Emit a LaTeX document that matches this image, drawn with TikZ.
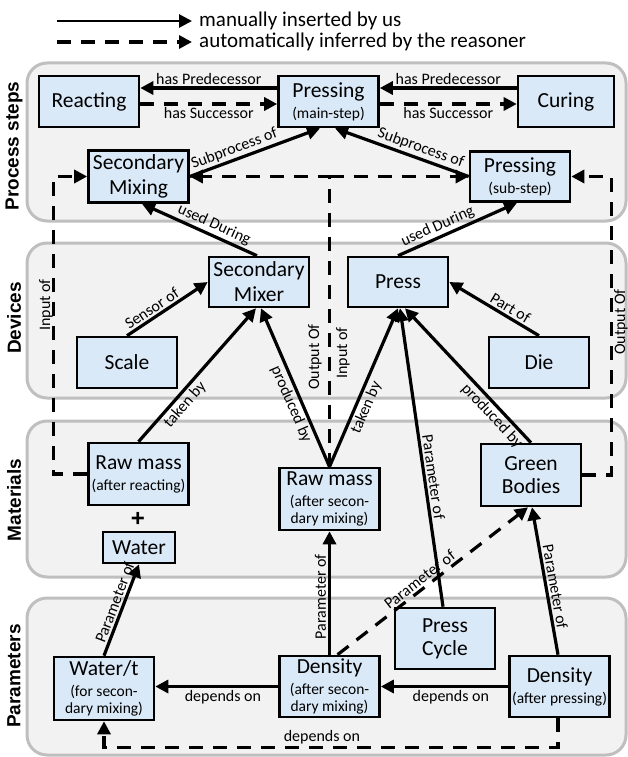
\documentclass[tikz,border=0pt]{standalone}
\usepackage{fontspec}
\setmainfont{Carlito}
\newfontfamily\panelfnt{Liberation Sans}
\usetikzlibrary{arrows.meta}
\definecolor{boxblue}{HTML}{DAE9F7}
\definecolor{panelfill}{HTML}{F2F2F2}
\definecolor{panelline}{HTML}{BFBFBF}
\newcommand{\mainfnt}{\fontsize{21.5}{25}\selectfont}
\newcommand{\subfnt}{\fontsize{15.5}{17}\selectfont}
\newcommand{\labfnt}{\fontsize{16}{19}\selectfont}
\newcommand{\legfnt}{\fontsize{21}{24}\selectfont}
\begin{document}
\begin{tikzpicture}[x=1pt,y=-1pt,
  box/.style={draw=black, line width=2.6pt, fill=boxblue, inner sep=0pt, align=center, font=\mainfnt, minimum width=100pt, minimum height=51pt},
  panel/.style={draw=panelline, line width=3pt, fill=panelfill, rounded corners=20pt},
  paneltitle/.style={font=\panelfnt\bfseries\fontsize{19}{22}\selectfont, rotate=90},
  conn/.style={line width=3.2pt, -{Triangle[length=13pt,width=13pt]}},
  inferred/.style={conn, dash pattern=on 14pt off 10pt},
  lab/.style={font=\labfnt, inner sep=2pt},
]
\useasboundingbox (0,0) rectangle (628,757);

% panels
\draw[panel] (27,63) rectangle (626,221);
\draw[panel] (27,243) rectangle (626,398);
\draw[panel] (27,421) rectangle (626,577);
\draw[panel] (27,598) rectangle (626,755);
\node[paneltitle] (tproc) at (14,146) {Process steps};
\node[paneltitle] (tdev) at (14,318) {Devices};
\node[paneltitle] (tmat) at (14,500) {Materials};
\node[paneltitle] (tpar) at (14,676) {Parameters};

% legend
\coordinate (l1a) at (57,21);
\coordinate (l1b) at (192,21);
\draw[conn, line width=2.8pt] (l1a) -- (l1b);
\node[anchor=west, font=\legfnt, inner sep=0pt] (leg1) at (199,21) {manually inserted by us};
\coordinate (l2a) at (57,42);
\coordinate (l2b) at (192,42);
\draw[inferred] (l2a) -- (l2b);
\node[anchor=west, font=\legfnt, inner sep=0pt] (leg2) at (199,42) {automatically inferred by the reasoner};

% nodes
\node[box] (reacting) at (89,101.5) {Reacting};
\node[box] (pmain) at (328.5,101.5) {Pressing\\[-4pt]{\subfnt (main-step)}};
\node[box, minimum width=96pt] (curing) at (566,101.5) {Curing};
\node[box, minimum height=52pt] (secmixing) at (138.5,176.5) {Secondary\\Mixing};
\node[box, minimum height=50pt] (psub) at (520,176.5) {Pressing\\[-4pt]{\subfnt (sub-step)}};
\node[box, minimum height=50pt] (secmixer) at (259,282) {Secondary\\Mixer};
\node[box, minimum height=50pt] (press) at (398,282) {Press};
\node[box] (scale) at (127,362.5) {Scale};
\node[box] (die) at (539,362.5) {Die};
\node[box, minimum height=62pt] (rawA) at (138.5,474) {Raw mass\\[-4pt]{\subfnt (after reacting)}};
\node[box, minimum width=72pt, minimum height=31pt] (water) at (139,547.5) {Water};
\node[font=\panelfnt\bfseries\fontsize{24}{24}\selectfont, inner sep=0pt] (plus) at (138,519) {+};
\node[box, minimum height=62pt] (rawB) at (329.5,499) {Raw mass\\[-4pt]{\subfnt (after secon-}\\[-8pt]{\subfnt dary mixing)}};
\node[box, minimum height=62pt] (green) at (531,475) {Green\\[-2pt]Bodies};
\node[box, minimum height=61pt] (cycle) at (445,638.5) {Press\\[-2pt]Cycle};
\node[box, minimum height=63pt] (watert) at (104,688.5) {Water/t\\[-4pt]{\subfnt (for secon-}\\[-8pt]{\subfnt dary mixing)}};
\node[box, minimum height=61pt] (densA) at (329.5,686.5) {Density\\[-4pt]{\subfnt (after secon-}\\[-8pt]{\subfnt dary mixing)}};
\node[box, minimum height=61pt] (densB) at (559.5,686.5) {Density\\[-4pt]{\subfnt (after pressing)}};

% process steps
\draw[conn] ([yshift=13.5pt]pmain.west) -- node[lab, above] {has Predecessor} ([yshift=13.5pt]reacting.east);
\draw[inferred] ([yshift=-2.5pt]reacting.east) -- node[lab, below] {has Successor} ([yshift=-2.5pt]pmain.west);
\draw[conn] ([yshift=13.5pt]curing.west) -- node[lab, above] {has Predecessor} ([yshift=13.5pt]pmain.east);
\draw[inferred] ([yshift=-2.5pt]pmain.east) -- node[lab, below] {has Successor} ([yshift=-2.5pt]curing.west);
\draw[conn] (secmixing.east) -- node[lab, sloped, above, pos=0.37] {Subprocess of} ([xshift=-8.5pt]pmain.south);
\draw[conn] (psub.west) -- node[lab, sloped, above, pos=0.385] {Subprocess of} ([xshift=6.5pt]pmain.south);

% inferred input/output
\coordinate (junc) at (rawB.north |- secmixing.east);
\draw[inferred] (rawB.north) -- (junc) -- (secmixing.east);
\draw[inferred] (junc) -- (psub.west);
\node[lab, rotate=90] (midout) at (315,357) {Output Of};
\node[lab, rotate=90] (midin) at (343,353) {Input of};
\draw[inferred] (rawA.west) -- ++(-34,0) |- (secmixing.west);
\node[lab, rotate=90] (leftin) at (46,305) {Input of};
\draw[inferred] (green.east) -- ++(29,0) |- (psub.east);
\node[lab, rotate=90] (rightout) at (621,322) {Output Of};

% devices
\draw[conn] ([xshift=-2pt]secmixer.north) -- node[lab, sloped, above, pos=0.41] {used During} ([xshift=3.5pt]secmixing.south);
\draw[conn] (press.north) -- node[lab, sloped, above, pos=0.37] {used During} ([xshift=-3pt]psub.south);
\draw[conn] (scale.north) -- node[lab, sloped, above, pos=0.37] {Sensor of} (secmixer.west);
\draw[conn] (die.north) -- node[lab, sloped, above, pos=0.37] {Part of} (press.east);

% materials
\draw[conn] (rawA.north) -- node[lab, sloped, below, pos=0.33] {taken by} ([xshift=-3pt]secmixer.south);
\draw[conn] (rawB.north) -- node[lab, sloped, below, pos=0.42] {produced by} ([xshift=2pt]secmixer.south);
\draw[conn] (rawB.north) -- node[lab, sloped, below, pos=0.40] {taken by} (press.south);
\draw[conn] (green.north) -- node[lab, sloped, below, pos=0.25] {produced by} ([xshift=7pt]press.south);

% parameters
\draw[conn] ([xshift=-2pt]cycle.north) -- node[lab, sloped, above, pos=0.43] {Parameter of} ([xshift=2pt]press.south);
\draw[conn] ([xshift=-1.5pt]densB.north) -- node[lab, sloped, above, pos=0.45] {Parameter of} ([xshift=1pt]green.south);
\draw[inferred] ([xshift=8pt]densA.north) -- node[lab, sloped, above, pos=0.46] {Parameter of} ([xshift=-3pt]green.south);
\draw[conn] (densA.north) -- node[lab, sloped, above, pos=0.47] {Parameter of} (rawB.south);
\draw[conn] (watert.north) -- node[lab, sloped, above, pos=0.55] {Parameter of} (water.south);
\draw[conn] (densA.west) -- node[lab, below, pos=0.45] {depends on} (densA.west -| watert.east);
\draw[conn] (densB.west) -- node[lab, below, pos=0.45] {depends on} (densB.west -| densA.east);
\draw[inferred] ([xshift=-1.5pt]densB.south) -- ++(0,29) -| node[lab, above, pos=0.26] {depends on} (watert.south);
\end{tikzpicture}
\end{document}
